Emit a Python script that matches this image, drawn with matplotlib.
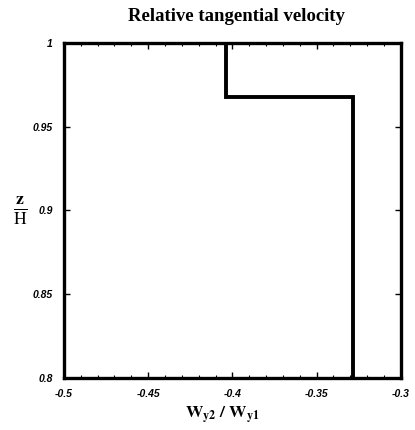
import matplotlib
matplotlib.use("Agg")
import matplotlib.pyplot as plt
from matplotlib.ticker import MultipleLocator, FuncFormatter

# profile values
w_ratio = [-0.404, -0.404, -0.3285, -0.3285]
z_over_h = [1.0, 0.968, 0.968, 0.8]

x_ticks = [-0.5, -0.45, -0.4, -0.35, -0.3]
y_ticks = [0.8, 0.85, 0.9, 0.95, 1.0]

plt.rcParams['axes.unicode_minus'] = False
plt.rcParams['mathtext.fontset'] = 'stix'

fig = plt.figure(figsize=(4.15, 4.30), dpi=100)
ax = fig.add_axes([0.154, 0.121, 0.812, 0.779])

ax.plot(w_ratio, z_over_h, color='black', lw=2.8, solid_joinstyle='miter')

ax.set_xlim(-0.5, -0.3)
ax.set_ylim(0.8, 1.0)
ax.set_xticks(x_ticks)
ax.set_yticks(y_ticks)
ax.xaxis.set_minor_locator(MultipleLocator(0.01))

fmt = FuncFormatter(lambda v, p: ('%g' % round(v, 3)))
ax.xaxis.set_major_formatter(fmt)
ax.yaxis.set_major_formatter(fmt)

ax.tick_params(which='both', direction='in', top=True, right=True)
ax.tick_params(which='major', length=4, width=1.0, pad=8)
ax.tick_params(which='minor', length=2, width=0.8)
for lab in ax.get_xticklabels() + ax.get_yticklabels():
    lab.set_family('Liberation Sans')
    lab.set_fontweight('bold')
    lab.set_fontsize(7.5)
    lab.set_style('italic')

for sp in ax.spines.values():
    sp.set_linewidth(2.4)

fig.text(0.57, 0.962, 'Relative tangential velocity', ha='center', va='center',
         family='Liberation Serif', fontweight='bold', fontsize=13.5)
fig.text(0.535, 0.035, r'$\mathbf{W_{y2}\ /\ W_{y1}}$', ha='center', va='center',
         fontsize=12.5)
fig.text(0.05, 0.51, r'$\frac{\mathbf{z}}{\mathrm{H}}$', ha='center', va='center',
         fontsize=18)

fig.savefig('out.png', dpi=100, facecolor='white')
